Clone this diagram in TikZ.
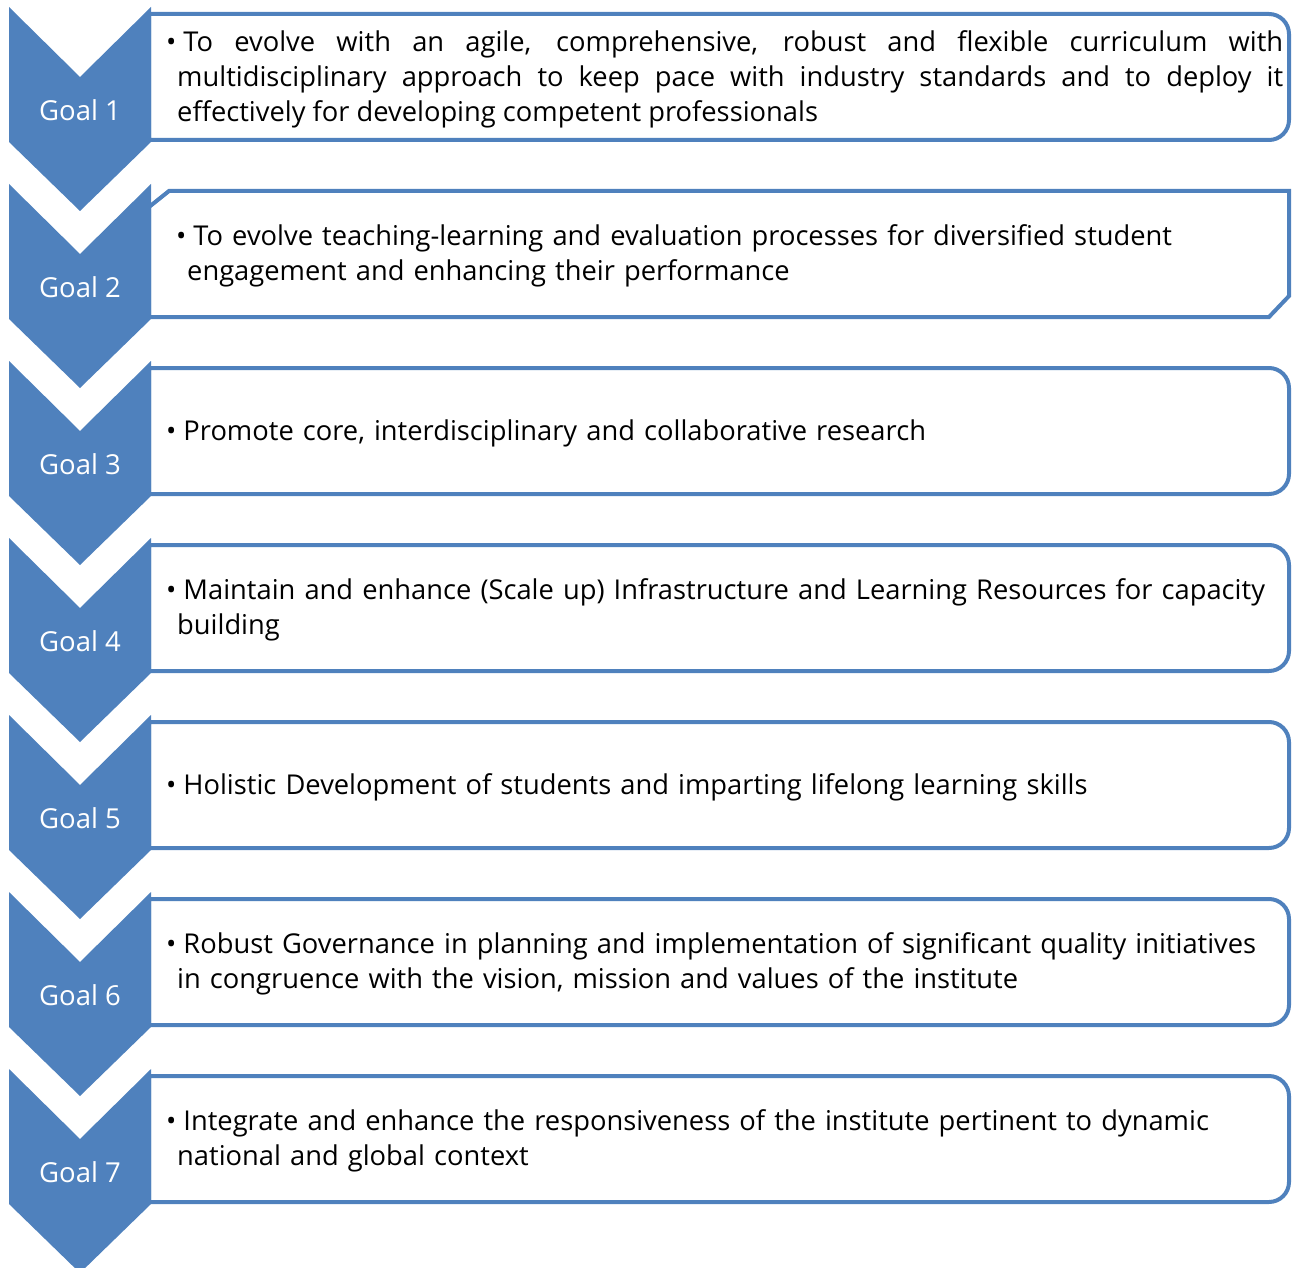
\documentclass[tikz,border=0pt]{standalone}
\usepackage{fontspec}
\setmainfont{Open Sans}
\definecolor{acc}{HTML}{4F81BD}
\begin{document}
\begin{tikzpicture}[x=1pt,y=-1pt,
  chev/.style={fill=acc,draw=none},
  goalbox/.style={draw=acc,line width=4pt,fill=white},
  goaltxt/.style={text=white,font=\fontsize{27.5}{30}\selectfont,inner sep=0pt},
  item/.style={anchor=west,inner sep=0pt,font=\fontsize{27.3}{35}\selectfont,align=left,text width=1112pt},
]
\useasboundingbox (0,0) rectangle (1296,1268);
\newcommand\bul{\hspace*{-11pt}\textbullet\hspace{7pt}}
% boxes
\foreach \i in {0,2,3,4,5,6}{
  \pgfmathsetmacro\t{7+177*\i}
  \draw[goalbox] (149,\t+7) -- (1269,\t+7) .. controls (1280,\t+7) and (1289,\t+16) .. (1289,\t+27) -- (1289,\t+113) .. controls (1289,\t+124) and (1280,\t+133) .. (1269,\t+133) -- (149,\t+133) -- cycle;
}
\draw[goalbox] (149,207) -- (169,191) -- (1289,191) -- (1289,296) -- (1269,317) -- (149,317) -- cycle;
% chevrons
\foreach \i in {1,...,7}{
  \pgfmathsetmacro\t{7+177*(\i-1)}
  \fill[chev] (9,\t) -- (80,\t+70) -- (151,\t) -- (151,\t+135) -- (80,\t+204) -- (9,\t+135) -- cycle;
  \node[goaltxt] (g\i) at (80,\t+103) {Goal \i};
}
% texts
\node[item,align=justify,text width=1106pt] (t1) at (177,79) {\bul To evolve with an agile, comprehensive, robust and flexible curriculum with\linebreak multidisciplinary approach to keep pace with industry standards and to deploy it\linebreak effectively for developing competent professionals};
\node[item] (t2) at (187,256) {\bul To evolve teaching-learning and evaluation processes for diversified student\\ engagement and enhancing their performance};
\node[item] (t3) at (177,433) {\bul Promote core, interdisciplinary and collaborative research};
\node[item] (t4) at (177,610) {\bul Maintain and enhance (Scale up) Infrastructure and Learning Resources for capacity\\ building};
\node[item] (t5) at (177,787) {\bul Holistic Development of students and imparting lifelong learning skills};
\node[item] (t6) at (177,964) {\bul Robust Governance in planning and implementation of significant quality initiatives\\ in congruence with the vision, mission and values of the institute};
\node[item] (t7) at (177,1141) {\bul Integrate and enhance the responsiveness of the institute pertinent to dynamic\\ national and global context};
\end{tikzpicture}
\end{document}
